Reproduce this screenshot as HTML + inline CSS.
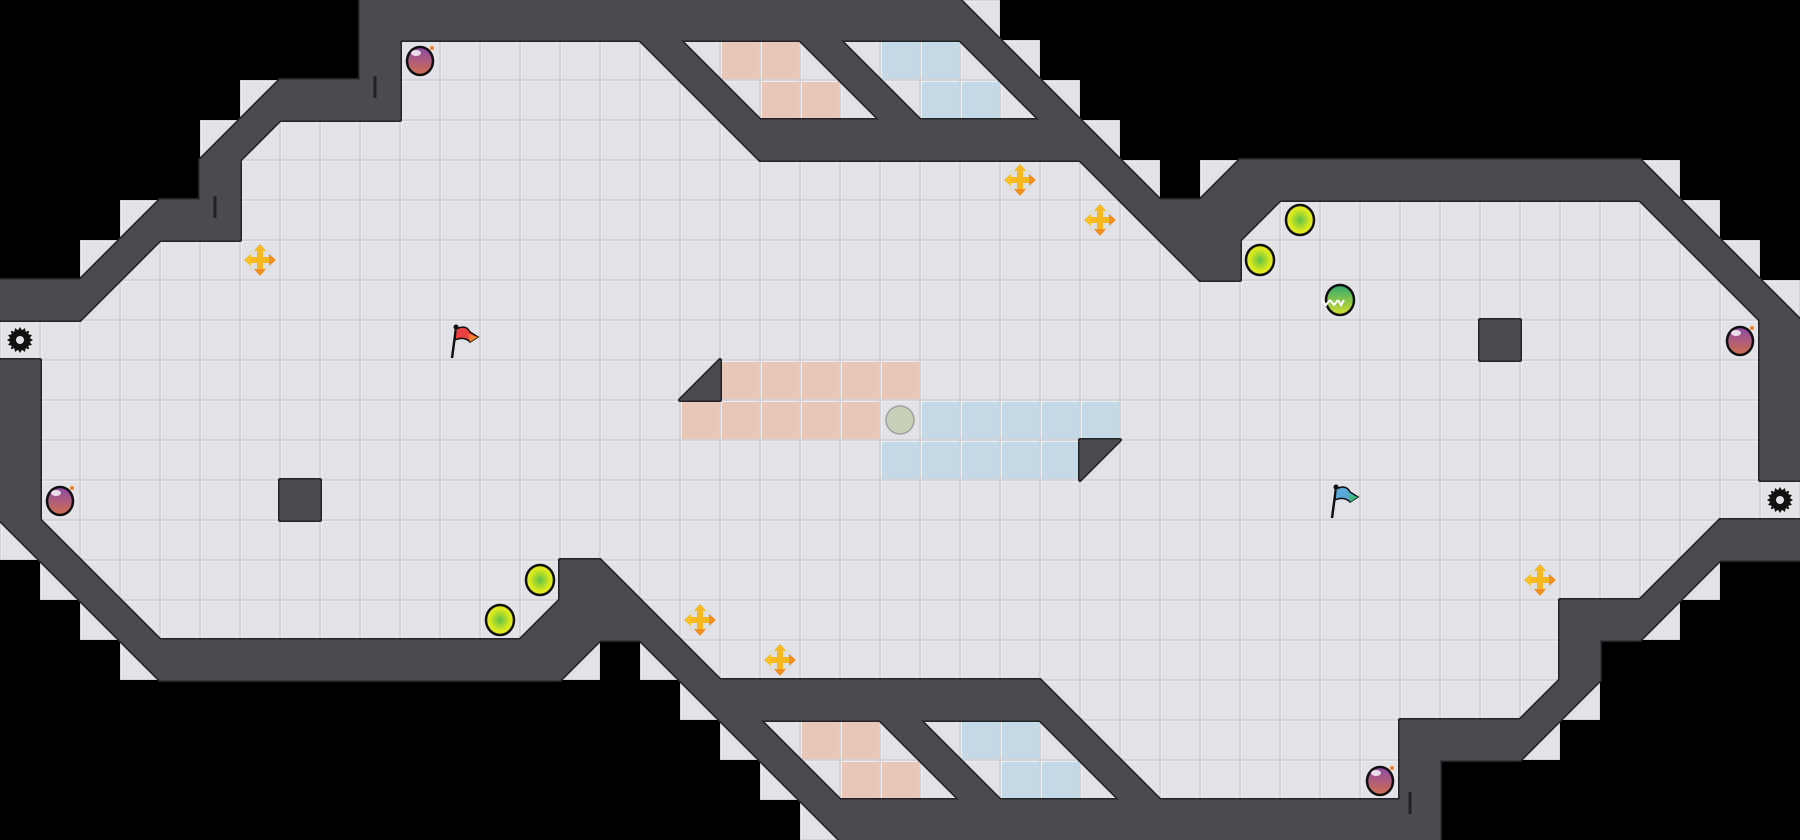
<!DOCTYPE html>
<html><head><meta charset="utf-8">
<style>
html,body{margin:0;padding:0;background:#000;}
svg{display:block;}
</style></head>
<body>
<svg id="m" xmlns="http://www.w3.org/2000/svg" width="1800" height="840" viewBox="0 0 1800 840">
<defs>
<radialGradient id="yb" cx="50%" cy="50%" r="50%"><stop offset="0" stop-color="#5cc24a"/><stop offset="0.7" stop-color="#d8e81e"/><stop offset="1" stop-color="#e8ee20"/></radialGradient>
<linearGradient id="bm" x1="0" y1="0" x2="0" y2="1"><stop offset="0" stop-color="#8e4aa8"/><stop offset="1" stop-color="#d0704e"/></linearGradient>
<linearGradient id="gb" x1="0" y1="0" x2="0" y2="1"><stop offset="0" stop-color="#2fa86a"/><stop offset="1" stop-color="#d8e030"/></linearGradient>
</defs>
<rect width="1800" height="840" fill="#000"/>
<g id="tiles"></g>
<g id="wo"></g>
<g id="wf"></g>
<g id="items"></g>
</svg>
<script>
var rows=[
"9_15#c20_",
"9_#6.bc2rbc2ubc19_",
"6_d3#7.bc2rbc2ubc18_",
"5_da11.b8#c17_",
"5_#21.bc_d10#c3_",
"3_d2#22.b2#a9.bc2_",
"2_da25.b#11.bc_",
"2#a40.bc",
"37.#6.#",
"#16.d5r21.#",
"#16.5r.5u16.#",
"#21.5ua16.#",
"#6.#37.",
"bc40.d2#",
"_bc11.#c25.da2_",
"2_bc9.d2#c22.2#a3_",
"3_b10#a_bc21.#5_",
"17_b8#c11.da5_",
"18_bc2rbc2ubc7.3#a6_",
"19_bc2rbc2ubc6.#9_",
"20_b15#9_"];
var NS="http://www.w3.org/2000/svg";
var T=document.getElementById('tiles'),I=document.getElementById('items'),WO=document.getElementById('wo'),WF=document.getElementById('wf');
function el(p,tag,a){var e=document.createElementNS(NS,tag);for(var k in a)e.setAttribute(k,a[k]);p.appendChild(e);return e;}
var WALL="#4a4a50",EDGE="#26262a";
var tri={a:"0,0 40,0 0,40",b:"0,0 40,0 40,40",c:"0,0 0,40 40,40",d:"40,0 40,40 0,40"};
function floor(x,y,col){
 el(T,'rect',{x:x,y:y,width:40,height:40,fill:'#d2d2d7'});
 el(T,'rect',{x:x+1,y:y+1,width:38,height:38,fill:'#eeeef1'});
 el(T,'rect',{x:x+2,y:y+2,width:37,height:37,fill:col});
}
function wall(tag,a){
 var o={};for(var k in a)o[k]=a[k];o.fill=EDGE;o.stroke=EDGE;o['stroke-width']=4;o['stroke-linejoin']='round';el(WO,tag,o);
 var f={};for(var k in a)f[k]=a[k];f.fill=WALL;f.stroke=WALL;f['stroke-width']=0.8;el(WF,tag,f);
}
for(var r=0;r<rows.length;r++){
 var s=rows[r],c=0,i=0;
 while(i<s.length){
  var n='';while(/[0-9]/.test(s[i])){n+=s[i];i++;}
  var ch=s[i];i++;var cnt=n?parseInt(n):1;
  for(var k=0;k<cnt;k++){
   var x=c*40,y=r*40;
   if(ch=='.')floor(x,y,'#e3e3e7');
   else if(ch=='r')floor(x,y,'#e8c6b8');
   else if(ch=='u')floor(x,y,'#c4d8e6');
   else if(ch=='#')wall('rect',{x:x,y:y,width:40,height:40});
   else if(tri[ch]){floor(x,y,'#e3e3e7');wall('polygon',{points:tri[ch],transform:'translate('+x+','+y+')'});}
   c++;
  }
 }
}
function cx(c){return c*40+20;}
function bomb(c,r){var x=cx(c),y=cx(r);
 el(I,'ellipse',{cx:x,cy:y+1,rx:13,ry:14,fill:'url(#bm)',stroke:'#111','stroke-width':2.5});
 el(I,'ellipse',{cx:x-4,cy:y-7,rx:5,ry:3,fill:'#fff',opacity:0.8});
 el(I,'circle',{cx:x+12,cy:y-12,r:2,fill:'#f08020'});}
function gear(c,r){var x=cx(c),y=cx(r),p=[];
 for(var k=0;k<32;k++){var a=k*Math.PI/16,R=(k%2)?10:13;p.push((x+R*Math.cos(a)).toFixed(1)+','+(y+R*Math.sin(a)).toFixed(1));}
 el(I,'polygon',{points:p.join(' '),fill:'#111'});
 el(I,'circle',{cx:x,cy:y,r:4,fill:'#e2e2e6'});}
function yball(c,r){el(I,'ellipse',{cx:cx(c),cy:cx(r),rx:14,ry:15,fill:'url(#yb)',stroke:'#111','stroke-width':2.5});}
function pin(c,r){var x=cx(c),y=cx(r);
 el(I,'circle',{cx:x,cy:y,r:14,fill:'#ddd',opacity:0.7});
 el(I,'rect',{x:x-3,y:y-13,width:6,height:26,fill:'#f5b820'});
 el(I,'rect',{x:x-13,y:y-3,width:26,height:6,fill:'#f5b820'});
 el(I,'polygon',{points:(x)+','+(y-16)+' '+(x-6)+','+(y-9)+' '+(x+6)+','+(y-9),fill:'#f5b820'});
 el(I,'polygon',{points:(x)+','+(y+16)+' '+(x-6)+','+(y+9)+' '+(x+6)+','+(y+9),fill:'#f09020'});
 el(I,'polygon',{points:(x-16)+','+(y)+' '+(x-9)+','+(y-6)+' '+(x-9)+','+(y+6),fill:'#f5c020'});
 el(I,'polygon',{points:(x+16)+','+(y)+' '+(x+9)+','+(y-6)+' '+(x+9)+','+(y+6),fill:'#f09020'});}
function flag(c,r,col,col2){var x=c*40,y=r*40;
 el(I,'line',{x1:x+12,y1:y+38,x2:x+16,y2:y+8,stroke:'#111','stroke-width':2.5});
 el(I,'circle',{cx:x+16,cy:y+7,r:2.5,fill:'#111'});
 el(I,'path',{d:'M'+(x+16)+' '+(y+9)+' Q'+(x+26)+' '+(y+4)+' '+(x+30)+' '+(y+12)+' L'+(x+38)+' '+(y+17)+' L'+(x+30)+' '+(y+22)+' Q'+(x+24)+' '+(y+16)+' '+(x+15)+' '+(y+20)+' Z',fill:col,stroke:'#111','stroke-width':1.5});
 el(I,'path',{d:'M'+(x+28)+' '+(y+14)+' L'+(x+38)+' '+(y+17)+' L'+(x+30)+' '+(y+22)+' Z',fill:col2});}
[[10,1],[1,12],[43,8],[34,19]].forEach(function(p){bomb(p[0],p[1]);});
gear(0,8);gear(44,12);
[[32,5],[31,6],[13,14],[12,15]].forEach(function(p){yball(p[0],p[1]);});
[[6,6],[25,4],[27,5],[17,15],[19,16],[38,14]].forEach(function(p){pin(p[0],p[1]);});
flag(11,8,'#e84040','#f08030');flag(33,12,'#5aa8d8','#40b880');
el(I,'ellipse',{cx:cx(33),cy:cx(7),rx:14,ry:15,fill:'url(#gb)',stroke:'#111','stroke-width':2.5});
el(I,'path',{d:'M1322 300 l4 5 l4 -5 M1330 300 l4 5 l4 -5 M1338 300 l3 5 l3 -5',stroke:'#fff','stroke-width':2,fill:'none'});
el(I,'circle',{cx:cx(22),cy:cx(10),r:14,fill:'#c8d0b8',stroke:'#a0a0a0','stroke-width':1.5});
[[375,76,375,98],[215,196,215,218],[1410,792,1410,814]].forEach(function(l){el(I,'line',{x1:l[0],y1:l[1],x2:l[2],y2:l[3],stroke:'#222','stroke-width':3});});
</script>
</body></html>
